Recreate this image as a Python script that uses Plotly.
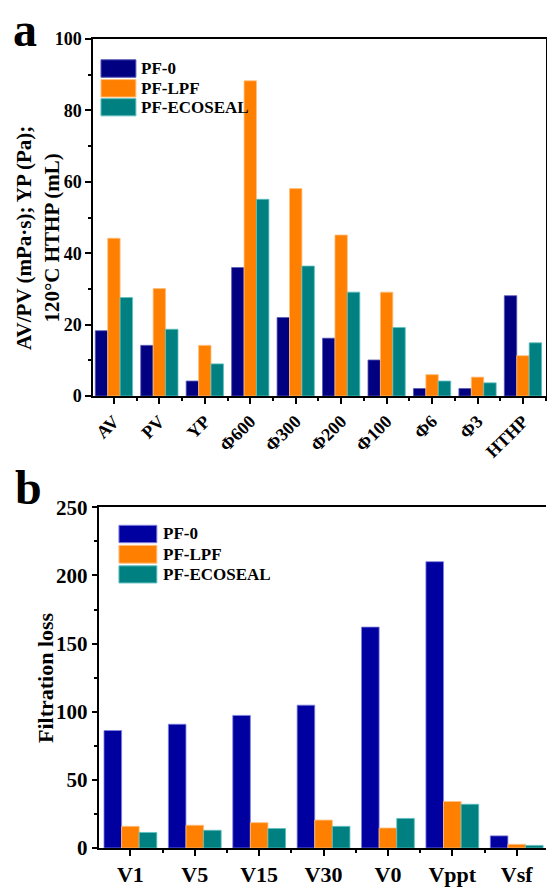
import plotly.graph_objects as go

# ---------------- data ----------------
cats_a = ["AV", "PV", "YP", "Φ600", "Φ300", "Φ200", "Φ100", "Φ6", "Φ3", "HTHP"]
pf0_a = [18.3, 14.2, 4.2, 36.0, 22.0, 16.2, 10.1, 2.1, 2.1, 28.1]
lpf_a = [44.2, 30.1, 14.2, 88.3, 58.1, 45.1, 29.1, 6.0, 5.3, 11.3]
eco_a = [27.6, 18.7, 9.0, 55.1, 36.4, 29.1, 19.2, 4.2, 3.7, 14.9]

cats_b = ["V1", "V5", "V15", "V30", "V0", "Vppt", "Vsf"]
pf0_b = [86.2, 90.8, 97.3, 104.8, 162.1, 210.1, 8.9]
lpf_b = [15.9, 16.7, 18.6, 20.5, 14.7, 34.1, 2.7]
eco_b = [11.4, 13.0, 14.3, 15.9, 21.7, 32.1, 1.9]

series_names = ["PF-0", "PF-LPF", "PF-ECOSEAL"]
colors_a = ["#000080", "#FF8000", "#008080"]
colors_b = ["#0000A0", "#FF8000", "#008080"]
edge_a = ["#5a5ab8", "#ffc080", "#60c0c0"]
edge_b = ["#8080e0", "#ffc080", "#60c0c0"]

FONT = "Liberation Serif"
W, H = 547, 887
ML, MR, MT, MB = 93, 0, 39, 30
PW, PH = W - ML - MR, H - MT - MB


def xp(px):
    return (px - ML) / PW


def yp(py):
    return (H - MB - py) / PH


fig = go.Figure()

xa = list(range(len(cats_a)))
xb = list(range(len(cats_b)))

for i, (name, vals) in enumerate(zip(series_names, [pf0_a, lpf_a, eco_a])):
    fig.add_trace(go.Bar(x=xa, y=vals, name=name, offsetgroup=str(i),
                         marker=dict(color=colors_a[i], line=dict(color=edge_a[i], width=0.8)),
                         xaxis="x", yaxis="y", showlegend=False))
for i, (name, vals) in enumerate(zip(series_names, [pf0_b, lpf_b, eco_b])):
    fig.add_trace(go.Bar(x=xb, y=vals, name=name, offsetgroup=str(i),
                         marker=dict(color=colors_b[i], line=dict(color=edge_b[i], width=0.8)),
                         xaxis="x2", yaxis="y2", showlegend=False))

axis_common = dict(showline=True, linecolor="black", linewidth=1.5, showgrid=False,
                   zeroline=False, ticks="outside", ticklen=6, tickwidth=1.5,
                   tickcolor="black")

fig.update_layout(
    width=W, height=H, margin=dict(l=ML, r=MR, t=MT, b=MB),
    paper_bgcolor="white", plot_bgcolor="white",
    font=dict(family=FONT, color="black", size=16, weight="bold"),
    barmode="group", bargap=0.18, bargroupgap=0.0,
    xaxis=dict(**axis_common, domain=[0, xp(546.7)], anchor="y", mirror=True,
               range=[-0.46, 9.5], tickmode="array", tickvals=xa, ticktext=cats_a,
               tickangle=-45, tickfont=dict(family=FONT, size=18, weight="bold"),
               minor=dict(tick0=0.5, dtick=1, ticks="outside", ticklen=3.5,
                          tickwidth=1.5, tickcolor="black")),
    yaxis=dict(**axis_common, domain=[yp(400), 1], anchor="x", mirror=True,
               range=[0, 100], dtick=20, tickfont=dict(family=FONT, size=18, weight="bold"),
               minor=dict(dtick=10, ticks="outside", ticklen=3.5, tickwidth=1.5,
                          tickcolor="black")),
    xaxis2=dict(**axis_common, domain=[xp(99.5), 1], anchor="y2", mirror=True,
                range=[-0.48, 6.455], tickmode="array", tickvals=xb, ticktext=cats_b,
                tickfont=dict(family=FONT, size=22, weight="bold"),
                minor=dict(tick0=0.5, dtick=1, ticks="outside", ticklen=3.5,
                           tickwidth=1.5, tickcolor="black")),
    yaxis2=dict(**axis_common, domain=[0, yp(512.5)], anchor="x2", mirror=False,
                range=[0, 250], dtick=50, tickfont=dict(family=FONT, size=21, weight="bold"),
                minor=dict(dtick=25, ticks="outside", ticklen=3.5, tickwidth=1.5,
                           tickcolor="black")),
)

annotations = []
shapes = []

# panel letters
annotations.append(dict(text="a", x=xp(11), y=yp(29), xref="paper", yref="paper",
                        xanchor="left", yanchor="middle", showarrow=False,
                        font=dict(family=FONT, size=48, weight="bold")))
annotations.append(dict(text="b", x=xp(13), y=yp(492), xref="paper", yref="paper",
                        xanchor="left", yanchor="middle", showarrow=False,
                        font=dict(family=FONT, size=48, weight="bold")))

# axis titles
annotations.append(dict(text="AV/PV (mPa·s); YP (Pa);<br>120°C HTHP (mL)",
                        x=xp(38), y=yp(240), xref="paper", yref="paper",
                        xanchor="center", yanchor="middle", textangle=-90, showarrow=False,
                        align="center", font=dict(family=FONT, size=21, weight="bold")))
annotations.append(dict(text="Filtration loss", x=xp(46), y=yp(685), xref="paper",
                        yref="paper", xanchor="center", yanchor="middle", textangle=-90,
                        showarrow=False, font=dict(family=FONT, size=22, weight="bold")))

# legends (drawn manually to match the large swatches)
leg_a_rows = [(60, 77.7), (80, 97.7), (99.3, 116.7)]
for i, (y0, y1) in enumerate(leg_a_rows):
    shapes.append(dict(type="rect", xref="paper", yref="paper", x0=xp(101), x1=xp(136),
                       y0=yp(y1), y1=yp(y0), fillcolor=colors_a[i],
                       line=dict(color=edge_a[i], width=1)))
    annotations.append(dict(text=series_names[i], x=xp(139.5), y=yp((y0 + y1) / 2),
                            xref="paper", yref="paper", xanchor="left", yanchor="middle",
                            showarrow=False, font=dict(family=FONT, size=17, weight="bold")))

leg_b_rows = [(530.7, 548.3), (551, 569), (571.7, 589)]
for i, (y0, y1) in enumerate(leg_b_rows):
    shapes.append(dict(type="rect", xref="paper", yref="paper", x0=xp(119), x1=xp(157),
                       y0=yp(y1), y1=yp(y0), fillcolor=colors_b[i],
                       line=dict(color=edge_b[i], width=1)))
    annotations.append(dict(text=series_names[i], x=xp(161.5), y=yp((y0 + y1) / 2),
                            xref="paper", yref="paper", xanchor="left", yanchor="middle",
                            showarrow=False, font=dict(family=FONT, size=17, weight="bold")))

fig.update_layout(annotations=annotations, shapes=shapes)

fig.write_html("out.html")
